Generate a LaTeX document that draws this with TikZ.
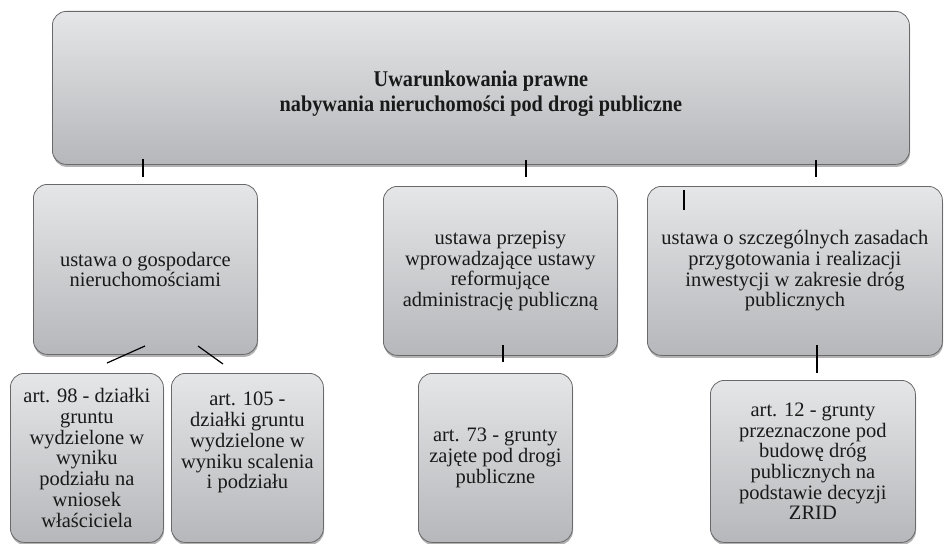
\documentclass[tikz,border=0pt]{standalone}
\usepackage{fontspec}
\setmainfont{Liberation Serif}
\newfontfamily\titlefont[FakeStretch=0.9]{Liberation Serif}
\usetikzlibrary{shadows}
\definecolor{boxtop}{RGB}{229,230,232}
\definecolor{boxbot}{RGB}{181,183,186}
\definecolor{boxline}{RGB}{105,105,108}
\tikzset{
  box/.style={draw=boxline, line width=0.8pt, rounded corners=14pt,
    top color=boxtop, bottom color=boxbot,
    drop shadow={shadow xshift=0.6pt, shadow yshift=-2.5pt, opacity=0.3, fill=black},
    align=center, anchor=north west, inner sep=0pt,
    font=\fontsize{20.5}{20.7}\selectfont, text=black!90},
  tick/.style={line width=1.2pt, black},
}
\begin{document}
\begin{tikzpicture}[x=1pt,y=-1pt]
\useasboundingbox (0,0) rectangle (944,543);
% boxes
\node[box, minimum width=857pt, minimum height=153pt,
      font=\titlefont\bfseries\fontsize{22.5}{25}\selectfont] (top) at (52,11)
  {\raisebox{-11pt}[30pt][30pt]{\begin{tabular}{@{}c@{}}Uwarunkowania prawne\\nabywania nieruchomości pod drogi publiczne\end{tabular}}};
\node[box, minimum width=224pt, minimum height=170pt] (A) at (33,184)
  {ustawa o gospodarce\\nieruchomościami};
\node[box, minimum width=234pt, minimum height=169pt] (B) at (383,186)
  {ustawa przepisy\\wprowadzające ustawy\\reformujące\\administrację publiczną};
\node[box, minimum width=295pt, minimum height=169pt] (C) at (647,186)
  {ustawa o szczególnych zasadach\\przygotowania i realizacji\\inwestycji w zakresie dróg\\publicznych};
\node[box, minimum width=153pt, minimum height=169pt] (A1) at (10,373)
  {art. 98 - działki\\gruntu\\wydzielone w\\wyniku\\podziału na\\wniosek\\właściciela};
\node[box, minimum width=152pt, minimum height=169pt] (A2) at (171,373)
  {art. 105 -\\działki gruntu\\wydzielone w\\wyniku scalenia\\i podziału\\[14pt]};
\node[box, minimum width=154pt, minimum height=169pt] (B1) at (418,373)
  {art. 73 - grunty\\zajęte pod drogi\\publiczne};
\node[box, minimum width=205pt, minimum height=162pt] (C1) at (710,380)
  {art. 12 - grunty\\przeznaczone pod\\budowę dróg\\publicznych na\\podstawie decyzji\\ZRID};
% connector fragments
\coordinate (t1a) at (143,159); \coordinate (t1b) at (143,177);
\coordinate (t2a) at (526,160); \coordinate (t2b) at (526,177);
\coordinate (t3a) at (816,160); \coordinate (t3b) at (816,177);
\coordinate (tca) at (684,190); \coordinate (tcb) at (684,210);
\coordinate (a1a) at (107,363); \coordinate (a1b) at (145,346);
\coordinate (a2a) at (198,346); \coordinate (a2b) at (223,364);
\coordinate (tba) at (503,345); \coordinate (tbb) at (503,362);
\coordinate (c2a) at (817,345); \coordinate (c2b) at (817,373);
\draw[tick] (t1a) -- (t1b);
\draw[tick] (t2a) -- (t2b);
\draw[tick] (t3a) -- (t3b);
\draw[tick] (tca) -- (tcb);
\draw[tick] (a1a) -- (a1b);
\draw[tick] (a2a) -- (a2b);
\draw[tick] (tba) -- (tbb);
\draw[tick] (c2a) -- (c2b);
\end{tikzpicture}
\end{document}
